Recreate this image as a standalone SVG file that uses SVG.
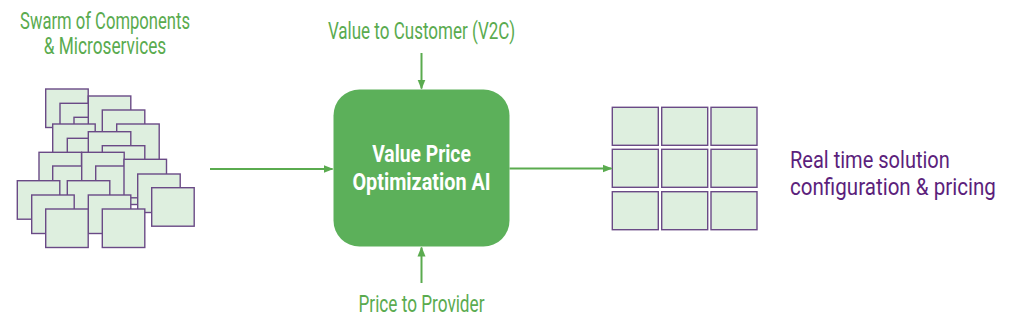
<svg xmlns="http://www.w3.org/2000/svg" width="1024" height="333" viewBox="0 0 1024 333">
<style>
.sq{fill:#deefdf;stroke:#6a4a86;stroke-width:1.4}
.lbl{font-family:"Roboto","Liberation Sans",sans-serif;fill:#5aab4f;font-size:23px}
.out{font-family:"Roboto","Liberation Sans",sans-serif;fill:#5c1f7c;font-size:23.5px}
.ctr{font-family:"Roboto","Liberation Sans",sans-serif;fill:#ffffff;font-size:24px;font-weight:bold}
.con{stroke:#5aab4f;stroke-width:2;fill:none}
</style>
<defs>
<marker id="ah" markerWidth="10" markerHeight="10" refX="9" refY="5" orient="auto" markerUnits="userSpaceOnUse">
<path d="M0,1 L10,5 L0,9 Z" fill="#5aab4f"/>
</marker>
<symbol id="s" overflow="visible"><rect class="sq" x="0" y="0" width="42.5" height="38.5"/></symbol>
</defs>
<rect width="1024" height="333" fill="#ffffff"/>
<g id="swarm">
<use href="#s" x="45.7" y="89"/>
<use href="#s" x="60" y="103.3"/>
<use href="#s" x="74" y="117.3"/>
<use href="#s" x="88.3" y="96"/>
<use href="#s" x="102.3" y="110"/>
<use href="#s" x="116.7" y="124"/>
<use href="#s" x="52.7" y="124"/>
<use href="#s" x="67.3" y="138.3"/>
<use href="#s" x="88.3" y="131.7"/>
<use href="#s" x="102.3" y="145.7"/>
<use href="#s" x="39" y="152.3"/>
<use href="#s" x="52.7" y="166"/>
<use href="#s" x="81.7" y="152.3"/>
<use href="#s" x="95.7" y="166"/>
<use href="#s" x="124" y="159.3"/>
<use href="#s" x="137.7" y="174"/>
<use href="#s" x="17.3" y="180.7"/>
<use href="#s" x="67.3" y="180.7"/>
<use href="#s" x="151.7" y="187.7"/>
<use href="#s" x="31.7" y="195"/>
<use href="#s" x="88.3" y="195"/>
<use href="#s" x="45.7" y="209"/>
<use href="#s" x="102.3" y="209"/>
<text class="lbl" transform="translate(105,28.5) scale(0.72,1)" text-anchor="middle" textLength="236" lengthAdjust="spacingAndGlyphs">Swarm of Components</text>
<text class="lbl" transform="translate(105,53.5) scale(0.72,1)" text-anchor="middle" textLength="170" lengthAdjust="spacingAndGlyphs">&amp; Microservices</text>
</g>
<g id="optimizer">
<rect x="333.5" y="89.5" width="176" height="157" rx="26" ry="26" fill="#5cb05a"/>
<text class="ctr" transform="translate(421.5,162) scale(0.72,1)" text-anchor="middle" textLength="137" lengthAdjust="spacingAndGlyphs">Value Price</text>
<text class="ctr" transform="translate(421.5,190) scale(0.72,1)" text-anchor="middle" textLength="192" lengthAdjust="spacingAndGlyphs">Optimization AI</text>
</g>
<g id="v2c">
<text class="lbl" transform="translate(421.5,39) scale(0.72,1)" text-anchor="middle" textLength="260" lengthAdjust="spacingAndGlyphs">Value to Customer (V2C)</text>
</g>
<g id="p2p">
<text class="lbl" transform="translate(421.5,311.5) scale(0.72,1)" text-anchor="middle" textLength="175" lengthAdjust="spacingAndGlyphs">Price to Provider</text>
</g>
<g id="grid">
<rect class="sq" x="612.3" y="107.3" width="46" height="38"/>
<rect class="sq" x="661.7" y="107.3" width="46" height="38"/>
<rect class="sq" x="711" y="107.3" width="46" height="38"/>
<rect class="sq" x="612.3" y="149.3" width="46" height="38"/>
<rect class="sq" x="661.7" y="149.3" width="46" height="38"/>
<rect class="sq" x="711" y="149.3" width="46" height="38"/>
<rect class="sq" x="612.3" y="191.7" width="46" height="38"/>
<rect class="sq" x="661.7" y="191.7" width="46" height="38"/>
<rect class="sq" x="711" y="191.7" width="46" height="38"/>
</g>
<g id="result">
<text class="out" transform="translate(790,167.5) scale(0.72,1)" textLength="222" lengthAdjust="spacingAndGlyphs">Real time solution</text>
<text class="out" transform="translate(790,195) scale(0.72,1)" textLength="286" lengthAdjust="spacingAndGlyphs">configuration &amp; pricing</text>
</g>
<g id="connectors">
<line class="con" x1="210" y1="169" x2="332.5" y2="169" marker-end="url(#ah)"/>
<line class="con" x1="509.5" y1="168.5" x2="611.5" y2="168.5" marker-end="url(#ah)"/>
<line class="con" x1="421.5" y1="53" x2="421.5" y2="88.5" marker-end="url(#ah)"/>
<line class="con" x1="421.5" y1="283" x2="421.5" y2="247.5" marker-end="url(#ah)"/>
</g>
</svg>
